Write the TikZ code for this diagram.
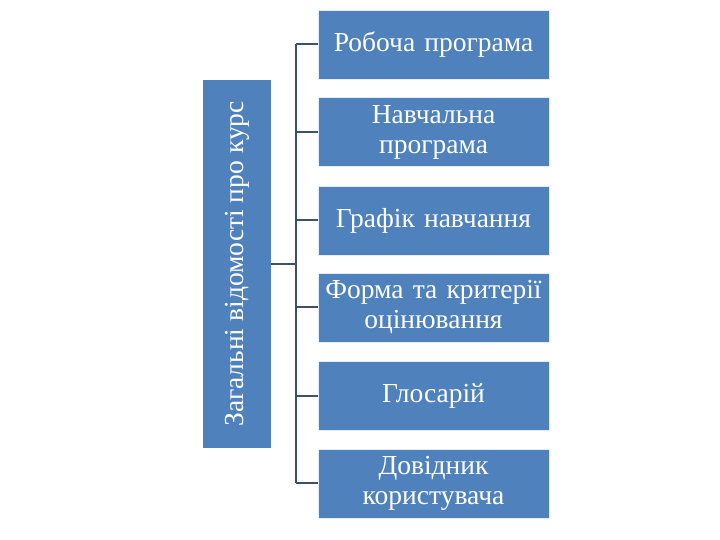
\documentclass[tikz,border=0pt]{standalone}
\usepackage{fontspec}
\setmainfont{Liberation Serif}
\definecolor{boxblue}{HTML}{4F81BD}
\definecolor{linecol}{HTML}{3E5063}
\begin{document}
\begin{tikzpicture}[x=1pt,y=1pt,
  item/.style={fill=boxblue, draw=white!85!boxblue, line width=0.6pt, minimum width=231pt, minimum height=69pt, text width=229pt, align=center, text=white, font=\fontsize{27.5}{30}\selectfont, inner sep=0pt},
  conn/.style={draw=linecol, line width=2pt}]
\useasboundingbox (0,0) rectangle (720,540);
\node[fill=boxblue, minimum width=68pt, minimum height=368pt, inner sep=0pt] (root) at (237,276) {};
\node[rotate=90, text=white, font=\fontsize{27.5}{30}\selectfont] at (root.center) {Загальні відомості про курс};
\node[item] (b1) at (433.5,495.5) {Робоча програма};
\node[item] (b2) at (433.5,408) {Навчальна\\програма};
\node[item] (b3) at (433.5,319.5) {Графік навчання};
\node[item] (b4) at (433.5,232.5) {Форма та критерії\\оцінювання};
\node[item] (b5) at (433.5,144) {Глосарій};
\node[item] (b6) at (433.5,56.5) {Довідник\\користувача};
\coordinate (s1) at (296,495.5);
\coordinate (s6) at (296,56.5);
\coordinate (sm) at (296,276);
\draw[conn] (s1) -- (s6);
\draw[conn] (root.east) -- (sm);
\foreach \i in {1,...,6} {
  \draw[conn] (296,0 |- b\i.west) -- (b\i.west);
}
\end{tikzpicture}
\end{document}
